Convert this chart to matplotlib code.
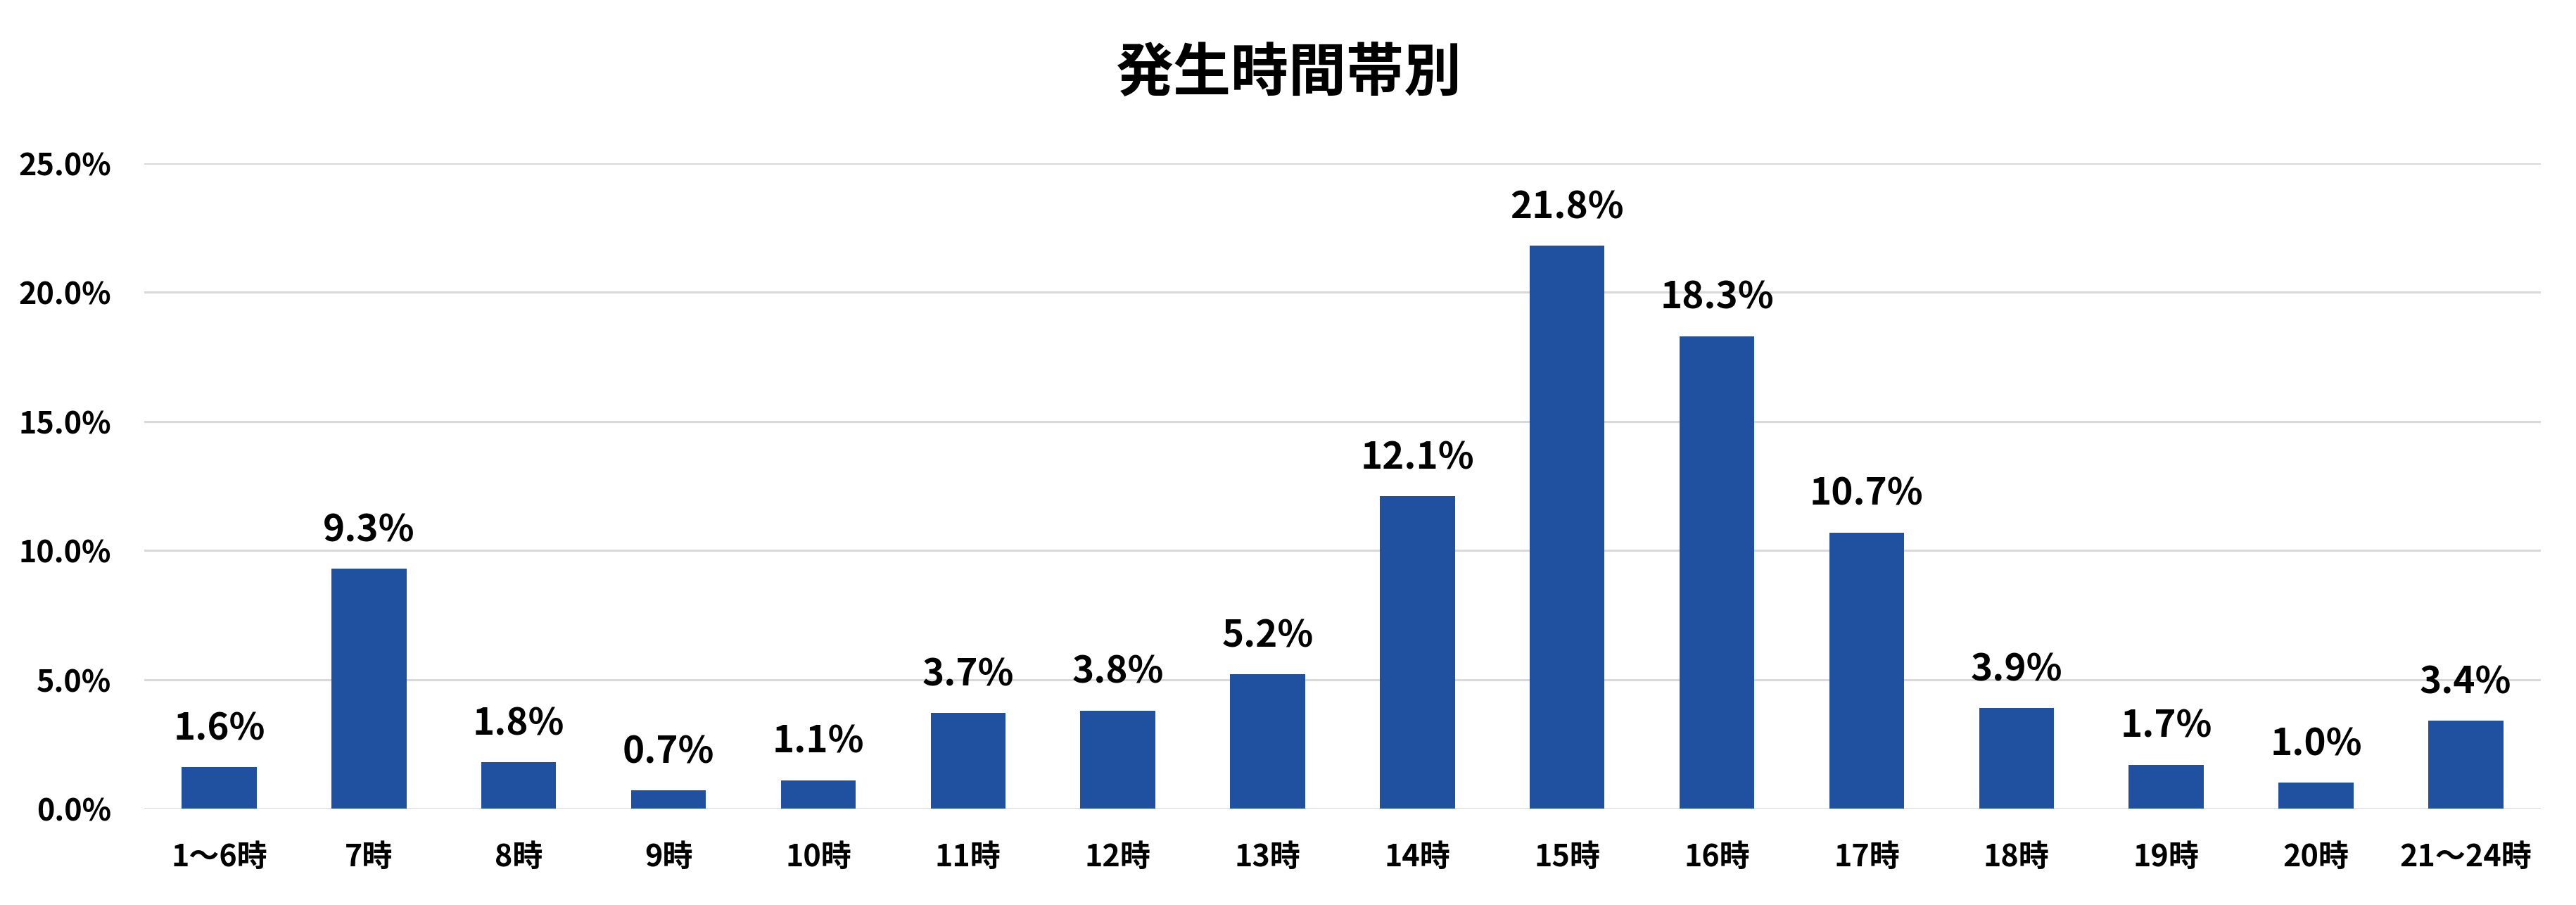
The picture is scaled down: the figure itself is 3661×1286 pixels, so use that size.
# 発生時間帯別 棒グラフ
import matplotlib.pyplot as plt
from matplotlib.ticker import FuncFormatter

plt.rcParams['font.family'] = ['Noto Sans CJK JP', 'DejaVu Sans']

# データ
時間帯 = ['1～6時', '7時', '8時', '9時', '10時', '11時', '12時', '13時',
          '14時', '15時', '16時', '17時', '18時', '19時', '20時', '21～24時']
割合 = [1.6, 9.3, 1.8, 0.7, 1.1, 3.7, 3.8, 5.2,
        12.1, 21.8, 18.3, 10.7, 3.9, 1.7, 1.0, 3.4]
目盛 = [0, 5, 10, 15, 20, 25]

タイトル = '発生時間帯別'
棒の色 = '#2050A0'

fig = plt.figure(figsize=(36.62, 12.86), dpi=100)
ax = fig.add_axes([0.056, 0.1065, 0.930, 0.7131])

x = range(len(時間帯))
bars = ax.bar(x, 割合, width=0.5, color=棒の色, zorder=3)

# データラベル
for b, v in zip(bars, 割合):
    ax.annotate(f'{v:.1f}%', (b.get_x() + b.get_width() / 2, v),
                xytext=(0, 20), textcoords='offset points',
                ha='center', va='bottom', fontsize=38, fontweight='bold')

ax.set_xlim(-0.5, len(時間帯) - 0.5)
ax.set_ylim(0, 25)
ax.set_yticks(目盛)
ax.yaxis.set_major_formatter(FuncFormatter(lambda v, p: f'{v:.1f}%'))
ax.set_xticks(list(x))
ax.set_xticklabels(時間帯)

ax.grid(axis='y', color='#D9D9D9', linewidth=2.2, zorder=0)
ax.tick_params(axis='both', length=0, labelsize=31)
ax.tick_params(axis='x', pad=34)
ax.tick_params(axis='y', pad=34)
for lbl in ax.get_xticklabels() + ax.get_yticklabels():
    lbl.set_fontweight('bold')

for s in ax.spines.values():
    s.set_visible(False)

fig.text(0.5, 0.918, タイトル, ha='center', va='center',
         fontsize=59, fontweight='bold')

fig.savefig('out.png', dpi=100, facecolor='white')
